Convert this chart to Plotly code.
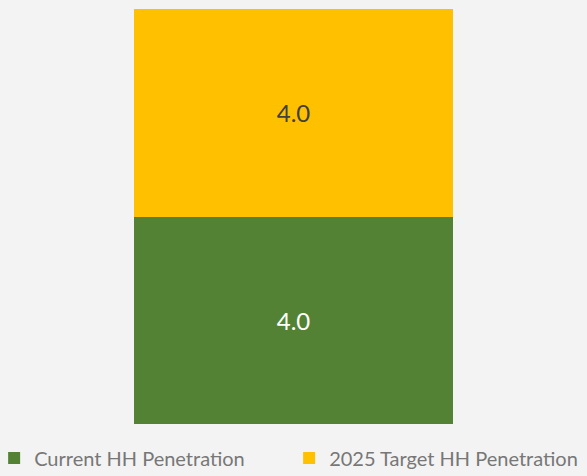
import plotly.graph_objects as go

categories = ["HH"]
series_names = ["Current HH Penetration", "2025 Target HH Penetration"]
current_values = [4.0]
target_values = [4.0]
colors = ["#548235", "#FFC000"]
label_colors = ["#FFFFFF", "#404040"]

fig = go.Figure()
for name, vals, col, lc in zip(series_names, [current_values, target_values], colors, label_colors):
    fig.add_trace(go.Bar(
        x=categories, y=vals, name=name,
        marker=dict(color=col, line=dict(width=0)),
        text=[f"{v:.1f}" for v in vals],
        textposition="inside", insidetextanchor="middle",
        textfont=dict(color=lc, size=24, family="Lato"),
        width=0.542,
    ))

fig.update_layout(
    barmode="stack",
    width=587, height=476,
    margin=dict(l=0, r=0, t=9, b=52, autoexpand=False),
    paper_bgcolor="#f3f3f3",
    plot_bgcolor="#f3f3f3",
    xaxis=dict(visible=False, range=[-0.5, 0.5]),
    yaxis=dict(visible=False, range=[0, 8]),
    showlegend=True,
    legend=dict(
        orientation="h", x=-0.01, xanchor="left", y=-0.035, yanchor="top",
        font=dict(color="#777777", size=20, family="Lato"),
        bgcolor="rgba(0,0,0,0)", entrywidth=250, entrywidthmode="pixels",
        itemwidth=30, traceorder="normal",
    ),
    font=dict(family="Lato"),
)

fig.write_html("out.html")
